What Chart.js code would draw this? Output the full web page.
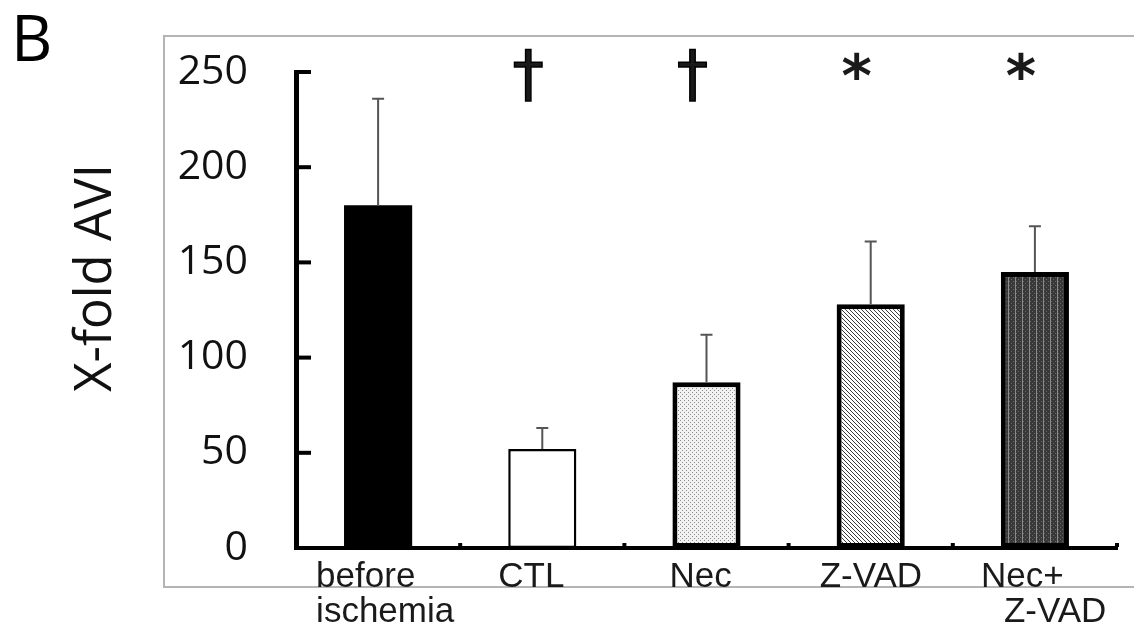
<!DOCTYPE html>
<html>
<head>
<meta charset="utf-8">
<script src="https://cdn.jsdelivr.net/npm/chart.js@4.4.1/dist/chart.umd.min.js"></script>
<style>
  html, body { margin: 0; padding: 0; background: #fff; }
  canvas { display: block; }
</style>
</head>
<body>
<canvas id="c" width="1134" height="635"></canvas>
<script>
// ---- data ----
const categories = [['before', 'ischemia'], 'CTL', 'Nec', 'Z-VAD', ['Nec+', 'Z-VAD']];
const values = [180, 52, 87, 128, 145];
const errors = [56, 11, 25, 33, 24];
const markers = ['', '\u2020', '\u2020', '*', '*'];
const yTicks = [0, 50, 100, 150, 200, 250];
const yTitle = 'X-fold AVI';
const panelLabel = 'B';

// ---- styles ----
const labelShift = [[-62, -62], [-44], [-37], [-51], [-54, -31]];
const borderWidths = [0, 2.5, 5, 5, 5];

function makePattern(w, h, draw) {
  const c = document.createElement('canvas');
  c.width = w; c.height = h;
  const g = c.getContext('2d');
  draw(g);
  return document.getElementById('c').getContext('2d').createPattern(c, 'repeat');
}
const dotPattern = makePattern(4, 4, g => {
  g.fillStyle = '#f2f2f2'; g.fillRect(0, 0, 4, 4);
  g.fillStyle = '#8a8a8a';
  g.fillRect(0, 0, 1, 1); g.fillRect(2, 2, 1, 1);
});
const diagPattern = makePattern(4, 4, g => {
  g.fillStyle = '#ffffff'; g.fillRect(0, 0, 4, 4);
  g.fillStyle = '#3a3a3a';
  for (let i = 0; i < 4; i++) g.fillRect(i, i, 1, 1);
});
const darkPattern = makePattern(7, 4, g => {
  g.fillStyle = '#383838'; g.fillRect(0, 0, 7, 4);
  g.fillStyle = '#666';
  g.fillRect(1, 1, 1, 1); g.fillRect(3, 3, 1, 1); g.fillRect(5, 1, 1, 1);
  g.fillStyle = '#8c8c8c';
  g.fillRect(0, 0, 1, 4);
});
const fills = ['#000000', '#ffffff', dotPattern, diagPattern, darkPattern];

const decorPlugin = {
  id: 'decor',
  beforeDraw(chart) {
    const ctx = chart.ctx;
    ctx.save();
    ctx.fillStyle = '#fff';
    ctx.fillRect(0, 0, chart.width, chart.height);
    ctx.strokeStyle = '#b4b4b4';
    ctx.lineWidth = 2;
    ctx.strokeRect(164, 36, chart.width, 551);
    // panel label
    ctx.fillStyle = '#000';
    ctx.font = '64px "Open Sans"';
    ctx.textBaseline = 'alphabetic';
    ctx.textAlign = 'left';
    ctx.fillText(panelLabel, 11, 61);
    // y title
    ctx.save();
    ctx.translate(96, 278);
    ctx.rotate(-Math.PI / 2);
    ctx.textAlign = 'center';
    ctx.textBaseline = 'middle';
    ctx.font = '51px "Open Sans"';
    ctx.fillStyle = '#111';
    ctx.fillText(yTitle, 0, 0);
    ctx.restore();
    ctx.restore();
  },
  afterDatasetsDraw(chart) {
    const ctx = chart.ctx;
    const x = chart.scales.x, y = chart.scales.y;
    const meta = chart.getDatasetMeta(0);
    ctx.save();
    // error bars
    ctx.strokeStyle = '#555';
    ctx.lineWidth = 2;
    meta.data.forEach((el, i) => {
      const top = y.getPixelForValue(values[i] + errors[i]);
      const base = y.getPixelForValue(values[i]);
      ctx.beginPath();
      ctx.moveTo(el.x, base);
      ctx.lineTo(el.x, top);
      ctx.moveTo(el.x - 6, top);
      ctx.lineTo(el.x + 6, top);
      ctx.stroke();
    });
    // inner y ticks
    ctx.fillStyle = '#000';
    yTicks.forEach(v => {
      if (v === 0) return;
      const py = y.getPixelForValue(v);
      ctx.fillRect(x.left, py - 2, 15, 4);
    });
    // small category ticks
    for (let i = 1; i <= categories.length; i++) {
      const px = x.getPixelForValue(i - 0.5);
      ctx.fillRect(px - 2, y.bottom - 5, 4, 4);
    }
    // x labels
    ctx.font = '35px "Liberation Sans", Arial, sans-serif';
    ctx.fillStyle = '#1a1a1a';
    ctx.textAlign = 'left';
    ctx.textBaseline = 'alphabetic';
    categories.forEach((cat, i) => {
      const lines = Array.isArray(cat) ? cat : [cat];
      const cx = x.getPixelForValue(i);
      lines.forEach((ln, j) => {
        ctx.fillText(ln, cx + labelShift[i][j], y.bottom + 39 + j * 35);
      });
    });
    // significance markers
    ctx.textAlign = 'center';
    ctx.textBaseline = 'middle';
    markers.forEach((m, i) => {
      if (!m) return;
      const cx = x.getPixelForValue(i) - 14;
      if (m === '*') {
        ctx.font = 'bold 58px "DejaVu Sans"';
        ctx.fillText(m, cx, y.getPixelForValue(250) + 9);
      } else {
        ctx.font = '62px "DejaVu Sans"';
        ctx.lineWidth = 1.5;
        ctx.strokeStyle = '#000';
        ctx.fillText(m, cx, y.getPixelForValue(250) + 7);
        ctx.strokeText(m, cx, y.getPixelForValue(250) + 7);
      }
    });
    ctx.restore();
  }
};

new Chart(document.getElementById('c'), {
  type: 'bar',
  data: {
    labels: categories,
    datasets: [{
      data: values,
      backgroundColor: fills,
      borderColor: '#000',
      borderWidth: borderWidths,
      borderSkipped: false,
      barPercentage: 0.415,
      categoryPercentage: 1.0
    }]
  },
  options: {
    responsive: false,
    devicePixelRatio: 1,
    animation: false,
    layout: { padding: { left: 0, right: 17, top: 72, bottom: 0 } },
    plugins: { legend: { display: false }, tooltip: { enabled: false }, title: { display: false } },
    scales: {
      x: {
        grid: { display: false },
        border: { display: true, color: '#000', width: 4 },
        ticks: { display: false },
        afterFit(s) { s.height = 87; }
      },
      y: {
        min: 0, max: 250,
        afterBuildTicks(s) { s.ticks = yTicks.map(v => ({ value: v })); },
        grid: { display: false },
        border: { display: true, color: '#000', width: 5 },
        ticks: {
          padding: 40,
          color: '#111',
          font: { family: 'Open Sans', size: 41 }
        },
        afterFit(s) { s.width = 296; }
      }
    }
  },
  plugins: [decorPlugin]
});
</script>
</body>
</html>
